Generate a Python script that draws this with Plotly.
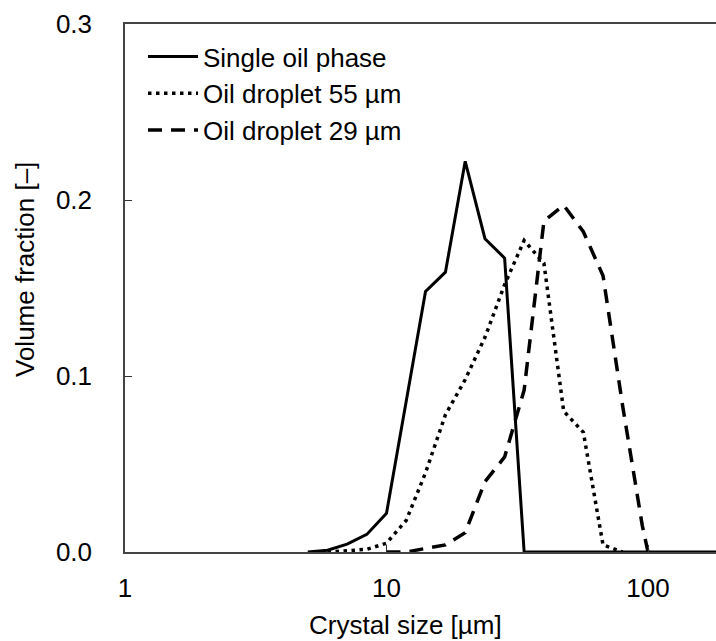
import plotly.graph_objects as go

# Data
x_single = [5.0, 5.95, 7.07, 8.41, 10.0, 11.9, 14.1, 16.8, 20.0, 23.8, 28.3, 33.6,
            40.0, 47.6, 56.6, 67.3, 80.0, 95.1, 113.0, 135.0, 160.0, 190.0, 226.0]
y_single = [0.0, 0.001, 0.0045, 0.010, 0.022, 0.085, 0.148, 0.159, 0.222, 0.178, 0.167, 0.0,
            0.0, 0.0, 0.0, 0.0, 0.0, 0.0, 0.0, 0.0, 0.0, 0.0, 0.0]

x_55 = [5.95, 7.07, 8.41, 10.0, 11.9, 14.1, 16.8, 20.0, 23.8, 28.3, 33.6, 40.0, 47.6, 56.6, 67.3, 80.0]
y_55 = [0.0, 0.0005, 0.0015, 0.005, 0.018, 0.045, 0.078, 0.098, 0.122, 0.152, 0.177, 0.164, 0.080, 0.068, 0.004, 0.0]

x_29 = [10.0, 11.9, 14.1, 16.8, 20.0, 23.8, 28.3, 33.6, 40.0, 47.6, 56.6, 67.3, 80.0, 95.1, 100.0]
y_29 = [0.0, 0.0, 0.002, 0.004, 0.011, 0.040, 0.054, 0.092, 0.188, 0.197, 0.182, 0.157, 0.083, 0.015, 0.0]

series_names = ["Single oil phase", "Oil droplet 55 µm", "Oil droplet 29 µm"]
x_tickvals = [1, 10, 100]
x_ticktext = ["1", "10", "100"]
y_tickvals = [0.0, 0.1, 0.2, 0.3]
y_ticktext = ["0.0", "0.1", "0.2", "0.3"]

FONT = "Liberation Sans, Arial, sans-serif"
FS = 26

fig = go.Figure()
fig.add_trace(go.Scatter(x=x_single, y=y_single, mode="lines", name=series_names[0],
                         line=dict(color="black", width=3, dash="solid")))
fig.add_trace(go.Scatter(x=x_55, y=y_55, mode="lines", name=series_names[1],
                         line=dict(color="black", width=3.5, dash="3.5px,4.5px")))
fig.add_trace(go.Scatter(x=x_29, y=y_29, mode="lines", name=series_names[2],
                         line=dict(color="black", width=3.5, dash="14px,9px")))

fig.update_layout(
    width=716, height=641,
    margin=dict(l=125, r=0, t=24, b=89),
    paper_bgcolor="white", plot_bgcolor="white",
    font=dict(family=FONT, size=FS, color="black"),
    showlegend=True,
    legend=dict(x=(143 - 125) / 591, y=(552 - 33) / 528, xanchor="left", yanchor="top",
                bgcolor="rgba(0,0,0,0)", borderwidth=0, itemwidth=50,
                font=dict(family=FONT, size=26, color="black"),
                tracegroupgap=0),
    xaxis=dict(type="log", range=[0, (716 - 125) / 261.5],
               tickvals=x_tickvals, ticktext=x_ticktext,
               ticks="inside", ticklen=7, tickwidth=1.2, tickcolor="#333",
               showline=True, linecolor="#444", linewidth=1.5, mirror=True,
               showgrid=False, zeroline=False,
               tickfont=dict(family=FONT, size=FS, color="black"),
               ticklabelstandoff=12),
    yaxis=dict(range=[0, 0.3], tickvals=y_tickvals, ticktext=y_ticktext,
               ticks="inside", ticklen=7, tickwidth=1.2, tickcolor="#333",
               showline=True, linecolor="#444", linewidth=1.5, mirror=False,
               showgrid=False, zeroline=False,
               tickfont=dict(family=FONT, size=FS, color="black"),
               ticklabelstandoff=26),
    annotations=[
        dict(text="Volume fraction [–]", xref="paper", yref="paper",
             x=(25 - 125) / 591, y=(552 - 270) / 528, xanchor="center", yanchor="middle",
             textangle=-90, showarrow=False, font=dict(family=FONT, size=FS, color="black")),
        dict(text="Crystal size [µm]", xref="paper", yref="paper",
             x=(405 - 125) / 591, y=(552 - 625) / 528, xanchor="center", yanchor="middle",
             showarrow=False, font=dict(family=FONT, size=FS, color="black")),
    ],
)

fig.write_html("out.html")
